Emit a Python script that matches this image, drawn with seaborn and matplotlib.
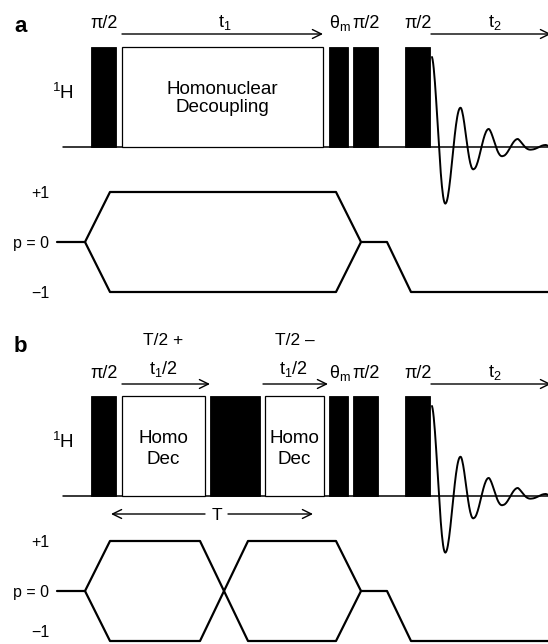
import numpy as np
import pandas as pd
import matplotlib
matplotlib.use("Agg")
import matplotlib.pyplot as plt
from matplotlib.patches import Rectangle
import seaborn as sns

sns.set_style("white")
plt.rcParams["font.family"] = ["Liberation Sans", "DejaVu Sans"]
plt.rcParams["text.color"] = "black"
plt.rcParams["mathtext.fontset"] = "custom"
plt.rcParams["mathtext.rm"] = "Liberation Sans"
plt.rcParams["mathtext.it"] = "Liberation Sans"
plt.rcParams["mathtext.sf"] = "Liberation Sans"

# ---- sequence timing (horizontal units shared by both panels) ----
# panel a: hard pulses (start, end) and the decoupling window
a_pulse_start = [91, 329, 353, 405]
a_pulse_end = [116, 348, 378, 430]
a_pulse_labels = ["π/2", r"θ$_\mathrm{m}$", "π/2", "π/2"]
a_dec_start = [122]
a_dec_end = [323]
a_dec_labels = [["Homonuclear", "Decoupling"]]

# panel b: split evolution with a central refocusing block
b_pulse_start = [91, 210, 329, 353, 405]
b_pulse_end = [116, 260, 348, 378, 430]
b_pulse_labels = ["π/2", "", r"θ$_\mathrm{m}$", "π/2", "π/2"]
b_dec_start = [122, 265]
b_dec_end = [205, 324]
b_dec_labels = [["Homo", "Dec"], ["Homo", "Dec"]]

# coherence-order pathways (time, order p)
a_path1_t = [57, 85, 110, 336, 361, 387, 411, 548]
a_path1_p = [0, 0, 1, 1, 0, 0, -1, -1]
a_path2_t = [85, 110, 336, 361]
a_path2_p = [0, -1, -1, 0]
b_path1_t = [57, 85, 110, 200, 248, 336, 361, 387, 411, 548]
b_path1_p = [0, 0, 1, 1, -1, -1, 0, 0, -1, -1]
b_path2_t = [85, 110, 200, 248, 336, 361]
b_path2_p = [0, -1, -1, 1, 1, 0]
order_labels = ["+1", "p = 0", "\u22121"]
order_values = [1, 0, -1]

# FID turning points (time, amplitude relative to pulse height)
fid_t = [432, 446, 461, 474, 489, 503, 518, 532, 546]
fid_amp = [0.90, -0.56, 0.39, -0.22, 0.18, -0.09, 0.08, -0.025, 0.02]

# ---- layout ----
PULSE_H = 100      # pulse height in drawing units
ORDER_STEP = 50    # vertical spacing between coherence orders
T_END = 548

fig = plt.figure(figsize=(5.48, 6.44), dpi=100)
ax = fig.add_axes([0, 0, 1, 1])
ax.set_xlim(0, 548)
ax.set_ylim(644, 0)
ax.axis("off")


def fid_curve(base):
    xs, ys = [], []
    for i in range(len(fid_t) - 1):
        s = np.linspace(0, 1, 24, endpoint=False)
        a0, a1 = fid_amp[i], fid_amp[i + 1]
        env = abs(a0) ** (1 - s) * abs(a1) ** s
        xs.extend(fid_t[i] + s * (fid_t[i + 1] - fid_t[i]))
        ys.extend(np.sign(a0) * np.cos(np.pi * s) * env)
    xs.append(fid_t[-1]); ys.append(fid_amp[-1])
    xs.append(T_END); ys.append(fid_amp[-1] * 0.6)
    return pd.DataFrame({"t": xs, "y": base - PULSE_H * np.array(ys)})


def arrow(x0, x1, y, lw=1.0):
    ax.annotate("", xy=(x1, y), xytext=(x0, y), annotation_clip=False,
                arrowprops=dict(arrowstyle="->,head_length=0.65,head_width=0.32",
                                lw=lw, color="black", shrinkA=0, shrinkB=0))


def draw_panel(base, p0, starts, ends, plabels, dstarts, dends, dlabels,
               paths, top_label_y, bottom_label_lift=0):
    # rf baseline
    ax.plot([63, T_END], [base, base], color="black", lw=1.1, zorder=1)
    # hard pulses
    for s, e, lab in zip(starts, ends, plabels):
        ax.add_patch(Rectangle((s, base - PULSE_H), e - s, PULSE_H,
                               facecolor="black", edgecolor="black", lw=0.6, zorder=3))
        if lab:
            ax.text((s + e) / 2 + 1, top_label_y, lab, ha="center", va="baseline",
                    fontsize=13)
    # decoupling windows
    for s, e, lab in zip(dstarts, dends, dlabels):
        ax.add_patch(Rectangle((s, base - PULSE_H), e - s, PULSE_H,
                               facecolor="white", edgecolor="black", lw=0.9, zorder=2))
        cx = (s + e) / 2
        ax.text(cx, base - 53, lab[0], ha="center", va="baseline", fontsize=13.6)
        ax.text(cx, base - 35 if len(lab[0]) > 6 else base - 32, lab[1],
                ha="center", va="baseline", fontsize=13.6)
    # FID
    sns.lineplot(data=fid_curve(base), x="t", y="y", sort=False, estimator=None,
                 color="black", lw=1.4, ax=ax, zorder=4)
    # coherence pathways
    frames = []
    for k, (tt, pp) in enumerate(paths):
        frames.append(pd.DataFrame({"t": tt, "y": p0 - ORDER_STEP * np.array(pp),
                                    "path": k}))
    df = pd.concat(frames)
    sns.lineplot(data=df, x="t", y="y", units="path", sort=False, estimator=None,
                 color="black", lw=1.6, ax=ax, legend=False)
    for lab, v in zip(order_labels, order_values):
        lift = bottom_label_lift if v == -1 else 0
        ax.text(49, p0 - ORDER_STEP * v + 6 - lift, lab, ha="right", va="baseline",
                fontsize=11.5)
    # nucleus label
    ax.text(63, base - 48, r"$^\mathrm{1}$H", ha="center", va="baseline", fontsize=13.5)
    # acquisition arrow
    arrow(431, 551, top_label_y + 6)
    ax.text(495, top_label_y - 1, r"t$_\mathrm{2}$", ha="center", va="baseline",
            fontsize=13)


# panel a
draw_panel(147, 242, a_pulse_start, a_pulse_end, a_pulse_labels,
           a_dec_start, a_dec_end, a_dec_labels,
           [(a_path1_t, a_path1_p), (a_path2_t, a_path2_p)], 28)
ax.text(14, 32, "a", fontsize=16, fontweight="bold", va="baseline")
arrow(122, 323, 34)
ax.text(225, 27, r"t$_\mathrm{1}$", ha="center", va="baseline", fontsize=13)

# panel b
draw_panel(496, 591, b_pulse_start, b_pulse_end, b_pulse_labels,
           b_dec_start, b_dec_end, b_dec_labels,
           [(b_path1_t, b_path1_p), (b_path2_t, b_path2_p)], 378,
           bottom_label_lift=10)
ax.text(14, 352, "b", fontsize=16, fontweight="bold", va="baseline")
arrow(122, 210, 384)
arrow(263, 328, 384)
ax.text(163, 345, "T/2 +", ha="center", va="baseline", fontsize=12.5)
ax.text(163, 374, r"t$_\mathrm{1}$/2", ha="center", va="baseline", fontsize=13)
ax.text(295, 345, "T/2 \u2013", ha="center", va="baseline", fontsize=12.5)
ax.text(293, 374, r"t$_\mathrm{1}$/2", ha="center", va="baseline", fontsize=13)
# refocusing period T
arrow(205, 111, 514)
arrow(228, 313, 514)
ax.text(217, 520, "T", ha="center", va="baseline", fontsize=12.5)

fig.savefig("out.png", dpi=100)
